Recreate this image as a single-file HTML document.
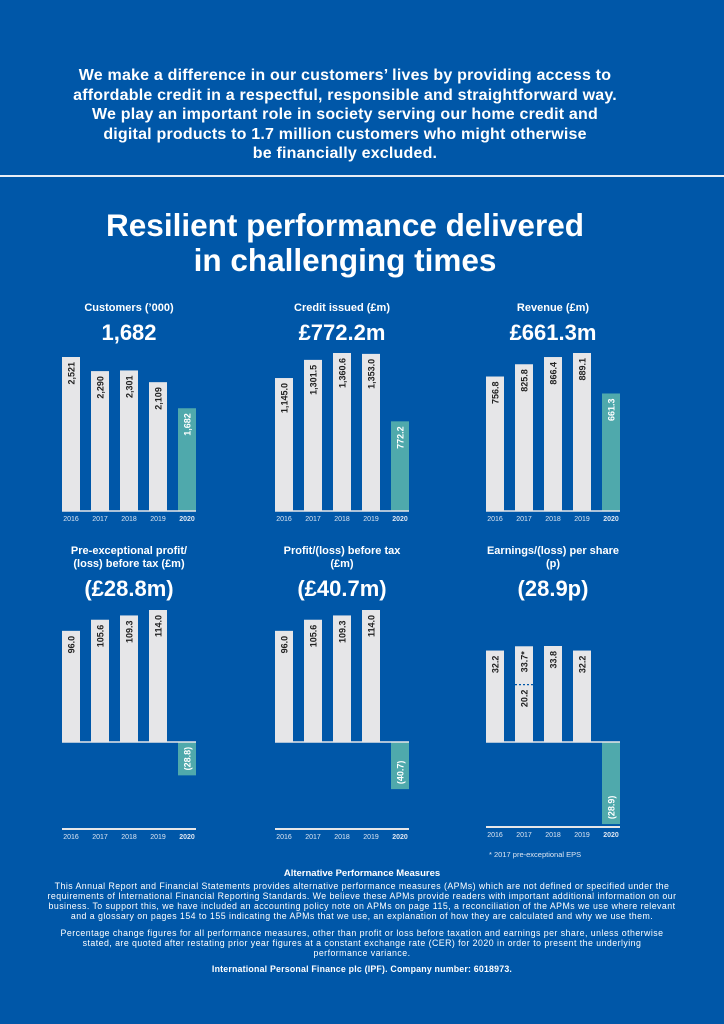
<!DOCTYPE html>
<html><head><meta charset="utf-8"><style>
body{margin:0;background:#0057a8;}
#page{position:relative;width:724px;height:1024px;background:#0057a8;overflow:hidden;font-family:"Liberation Sans",sans-serif;color:#fff}
.intro{position:absolute;top:66px;left:-7px;width:704px;text-align:center;font-weight:bold;font-size:16px;letter-spacing:0.2px;line-height:19.6px}
.rule{position:absolute;top:175px;left:0;width:724px;height:2px;background:#e8eef6}
h1{position:absolute;top:208px;left:-17px;width:724px;margin:0;text-align:center;font-size:31.5px;line-height:35px;font-weight:bold}
.foot{position:absolute;left:0;width:724px;text-align:center;font-size:8.8px;letter-spacing:0.45px;line-height:10px;white-space:nowrap}
</style></head><body>
<div id="page">
<div class="intro">We make a difference in our customers’ lives by providing access to<br>affordable credit in a respectful, responsible and straightforward way.<br>We play an important role in society serving our home credit and<br>digital products to 1.7 million customers who might otherwise<br>be financially excluded.</div>
<div class="rule"></div>
<h1>Resilient performance delivered<br>in challenging times</h1>
<svg id="charts" width="724" height="1024" style="position:absolute;left:0;top:0"></svg>
<div class="foot" style="top:869px;font-size:9.5px;letter-spacing:0;font-weight:bold">Alternative Performance Measures</div>
<div class="foot" style="top:881px">This Annual Report and Financial Statements provides alternative performance measures (APMs) which are not defined or specified under the<br>requirements of International Financial Reporting Standards. We believe these APMs provide readers with important additional information on our<br>business. To support this, we have included an accounting policy note on APMs on page 115, a reconciliation of the APMs we use where relevant<br>and a glossary on pages 154 to 155 indicating the APMs that we use, an explanation of how they are calculated and why we use them.</div>
<div class="foot" style="top:928px">Percentage change figures for all performance measures, other than profit or loss before taxation and earnings per share, unless otherwise<br>stated, are quoted after restating prior year figures at a constant exchange rate (CER) for 2020 in order to present the underlying<br>performance variance.</div>
<div class="foot" style="top:964px;font-weight:bold;letter-spacing:0.2px">International Personal Finance plc (IPF). Company number: 6018973.</div>
</div>
<script>
const years=["2016","2017","2018","2019","2020"];
const customers=[2521,2290,2301,2109,1682];
const customerLabels=["2,521","2,290","2,301","2,109","1,682"];
const credit=[1145.0,1301.5,1360.6,1353.0,772.2];
const creditLabels=["1,145.0","1,301.5","1,360.6","1,353.0","772.2"];
const revenue=[756.8,825.8,866.4,889.1,661.3];
const revenueLabels=["756.8","825.8","866.4","889.1","661.3"];
const preExcProfit=[96.0,105.6,109.3,114.0,-28.8];
const preExcLabels=["96.0","105.6","109.3","114.0","(28.8)"];
const pbt=[96.0,105.6,109.3,114.0,-40.7];
const pbtLabels=["96.0","105.6","109.3","114.0","(40.7)"];
const eps=[32.2,33.7,33.8,32.2,-28.9];
const epsLabels=["32.2","33.7*","33.8","32.2","(28.9)"];
const eps2017Reported=20.2;

const svg=document.getElementById('charts');
const NS='http://www.w3.org/2000/svg';
function mk(t,a){const e=document.createElementNS(NS,t);for(const k in a)e.setAttribute(k,a[k]);svg.appendChild(e);return e;}
function txt(x,y,s,size,weight,fill,anchor,rot){const e=mk('text',{x:x,y:y,'font-size':size,'font-weight':weight,fill:fill,'text-anchor':anchor||'middle','font-family':'Liberation Sans, sans-serif'});if(rot)e.setAttribute('transform','rotate(-90 '+x+' '+y+')');e.textContent=s;return e;}

function chart(o){
  const x0=o.x, bw=18, step=29;
  const yS=v=>o.base - v*o.scale;
  const tl=txt(x0+67,o.titleY,o.title[0],11,'bold','#fff');
  
  
  if(o.title[1]){const t2=txt(x0+67,o.titleY+13,o.title[1],11,'bold','#fff');
    
    }
  const hv=txt(x0+67,o.valY,o.value,22,'bold','#fff');
  
  
  o.data.forEach((v,i)=>{
    const bx=x0+i*step, last=i===4;
    const top=Math.min(yS(v),o.base), h=Math.abs(yS(v)-o.base);
    const r=mk('rect',{x:bx,y:top,width:bw,height:h,fill:last?'#4fa9ac':'#e6e6e8'});
    
    
    let ly;
    if(v>=0) ly=top+5; else ly=top+h-5;
    const lx=bx+bw/2+3.5;
    const t=mk('text',{x:lx,y:ly,'font-size':9,'font-weight':'bold',fill:last?'#fff':'#222','text-anchor':v>=0?'end':'start','font-family':'Liberation Sans, sans-serif',transform:'rotate(-90 '+lx+' '+ly+')'});
    t.textContent=o.labels[i];
    
    
    const yl=txt(bx+bw/2,o.axisY+10,years[i],7,last?'bold':'normal','#dde6f2');
    
    
  });
  const bl=mk('line',{x1:x0,x2:x0+4*step+bw,y1:o.base,y2:o.base,stroke:'#e6e6e8','stroke-width':1.5});
  
  
  if(o.axisY!==o.base){const al=mk('line',{x1:x0,x2:x0+4*step+bw,y1:o.axisY,y2:o.axisY,stroke:'#e6e6e8','stroke-width':2});
    
    }
  return yS;
}
chart({id:'customers',x:62,base:511,axisY:511,scale:154/2521,data:customers,labels:customerLabels,title:["Customers (’000)"],titleY:311,valY:340,value:"1,682"});
chart({id:'credit',x:275,base:511,axisY:511,scale:158/1360.6,data:credit,labels:creditLabels,title:["Credit issued (£m)"],titleY:311,valY:340,value:"£772.2m"});
chart({id:'revenue',x:486,base:511,axisY:511,scale:158/889.1,data:revenue,labels:revenueLabels,title:["Revenue (£m)"],titleY:311,valY:340,value:"£661.3m"});
chart({id:'pre-exceptional-profit',x:62,base:742,axisY:829,scale:132/114,data:preExcProfit,labels:preExcLabels,title:["Pre-exceptional profit/","(loss) before tax (£m)"],titleY:554,valY:596,value:"(£28.8m)"});
chart({id:'profit-before-tax',x:275,base:742,axisY:829,scale:132/114,data:pbt,labels:pbtLabels,title:["Profit/(loss) before tax","(£m)"],titleY:554,valY:596,value:"(£40.7m)"});
const epsY=chart({id:'eps',x:486,base:742,axisY:827,scale:96/33.8,data:eps,labels:epsLabels,title:["Earnings/(loss) per share","(p)"],titleY:554,valY:596,value:"(28.9p)"});
const dy=epsY(eps2017Reported);
const dl=mk('line',{x1:515,x2:533,y1:dy,y2:dy,stroke:'#0057a8','stroke-width':1.2,'stroke-dasharray':'2,2'});


const rl=mk('text',{x:527.5,y:dy+5,'font-size':9,'font-weight':'bold',fill:'#222','text-anchor':'end','font-family':'Liberation Sans, sans-serif',transform:'rotate(-90 527.5 '+(dy+5)+')'});
rl.textContent=eps2017Reported.toFixed(1);


const fn=txt(489,857,"*  2017 pre-exceptional EPS",7.5,'normal','#dde6f2','start');


</script>
</body></html>
